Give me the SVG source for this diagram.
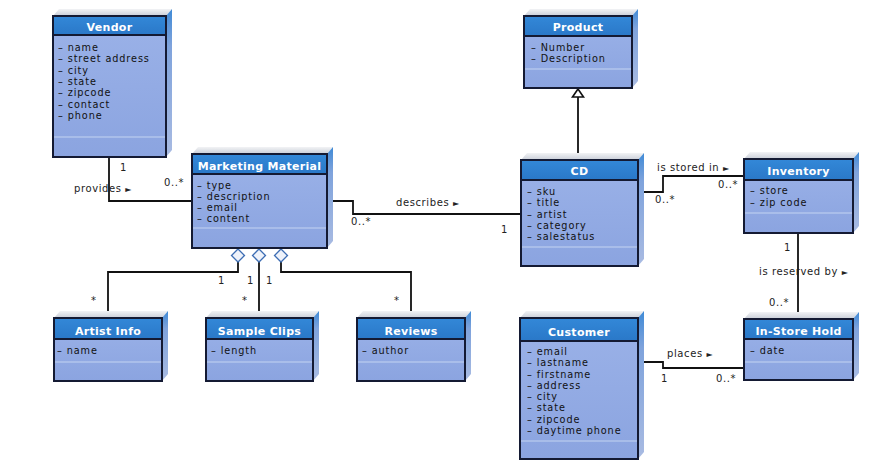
<svg xmlns="http://www.w3.org/2000/svg" width="888" height="469" viewBox="0 0 888 469">
<defs>
<linearGradient id="topface" x1="0" y1="0" x2="0" y2="1"><stop offset="0" stop-color="#f2f3f5"/><stop offset="1" stop-color="#c9ced8"/></linearGradient>
<linearGradient id="sideface" x1="0" y1="0" x2="0" y2="1"><stop offset="0" stop-color="#3f8ad6"/><stop offset="0.25" stop-color="#7fa3dc"/><stop offset="1" stop-color="#a9bbe2"/></linearGradient>
<linearGradient id="hdr" x1="0" y1="0" x2="0" y2="1"><stop offset="0" stop-color="#3388d8"/><stop offset="1" stop-color="#2a78c8"/></linearGradient>
<linearGradient id="body" x1="0" y1="0" x2="0" y2="1"><stop offset="0" stop-color="#9bb2e8"/><stop offset="1" stop-color="#8ba4e0"/></linearGradient>
</defs>
<style>
.top{fill:url(#topface)}
.side{fill:url(#sideface)}
.bd{fill:url(#body);stroke:#141a33;stroke-width:2}
.hd{fill:url(#hdr);stroke:#141a33;stroke-width:2}
.sep{stroke:#c4d3f2;stroke-width:1.2}
.ttl{font-family:"DejaVu Sans",sans-serif;font-size:11px;font-weight:bold;fill:#ffffff;text-anchor:middle;letter-spacing:0.3px}
.att{font-family:"DejaVu Sans",sans-serif;font-size:9.7px;fill:#111111;letter-spacing:0.9px}
.lbl{font-family:"DejaVu Sans",sans-serif;font-size:10px;fill:#222222;letter-spacing:0.6px}
.arr{font-size:8px}
.ln{fill:none;stroke:#111111;stroke-width:1.8}
.dia{fill:#eef2fa;stroke:#3d6db3;stroke-width:1.3}
</style>
<rect width="888" height="469" fill="#ffffff"/>

<g id="connectors">
<path class="ln" d="M109,157 V201 H192"/>
<path class="ln" d="M327,201 H353 V214 H521"/>
<path class="ln" d="M578,160 V97"/>
<polygon points="578,89 583.5,97 572.5,97" fill="#ffffff" stroke="#111111" stroke-width="1.6"/>
<path class="ln" d="M638,192 H663 V176 H744"/>
<path class="ln" d="M798,233 V319"/>
<path class="ln" d="M638,362 H663 V368 H744"/>
<path class="ln" d="M238,262 V272 H108 V318"/>
<path class="ln" d="M259,262 V318"/>
<path class="ln" d="M281,262 V272 H411 V318"/>
<polygon class="dia" points="238,249 244.5,255.5 238,262 231.5,255.5"/>
<polygon class="dia" points="259,249 265.5,255.5 259,262 252.5,255.5"/>
<polygon class="dia" points="281,249 287.5,255.5 281,262 274.5,255.5"/>
<text class="lbl" x="120" y="171">1</text>
<text class="lbl" x="74" y="192">provides <tspan class="arr">►</tspan></text>
<text class="lbl" x="164" y="186">0..*</text>
<text class="lbl" x="396" y="206">describes <tspan class="arr">►</tspan></text>
<text class="lbl" x="351" y="225">0..*</text>
<text class="lbl" x="501" y="233">1</text>
<text class="lbl" x="657" y="171">is stored in <tspan class="arr">►</tspan></text>
<text class="lbl" x="718" y="188">0..*</text>
<text class="lbl" x="655" y="203">0..*</text>
<text class="lbl" x="784" y="251">1</text>
<text class="lbl" x="759" y="275">is reserved by <tspan class="arr">►</tspan></text>
<text class="lbl" x="769" y="306">0..*</text>
<text class="lbl" x="667" y="357">places <tspan class="arr">►</tspan></text>
<text class="lbl" x="661" y="382">1</text>
<text class="lbl" x="716" y="382">0..*</text>
<text class="lbl" x="218" y="284">1</text>
<text class="lbl" x="247" y="284">1</text>
<text class="lbl" x="266" y="284">1</text>
<text class="lbl" x="91" y="304">*</text>
<text class="lbl" x="242" y="304">*</text>
<text class="lbl" x="394" y="304">*</text>
</g>

<g id="vendor">
<polygon class="top" points="59,9 172,9 166,16 53,16"/>
<polygon class="side" points="166,16 172,9 172,150 166,157"/>
<rect class="bd" x="53" y="16" width="113" height="141"/>
<rect class="hd" x="53" y="16" width="113" height="19"/>
<line class="sep" x1="54" y1="137" x2="165" y2="137"/>
<text class="ttl" x="109.5" y="31">Vendor</text>
<text class="att" x="58" y="51">– name</text>
<text class="att" x="58" y="62.3">– street address</text>
<text class="att" x="58" y="73.6">– city</text>
<text class="att" x="58" y="85">– state</text>
<text class="att" x="58" y="96.3">– zipcode</text>
<text class="att" x="58" y="107.6">– contact</text>
<text class="att" x="58" y="119">– phone</text>
</g>

<g id="marketing-material">
<polygon class="top" points="198,147 333,147 327,154 192,154"/>
<polygon class="side" points="327,154 333,147 333,241 327,248"/>
<rect class="bd" x="192" y="154" width="135" height="94"/>
<rect class="hd" x="192" y="154" width="135" height="20"/>
<line class="sep" x1="193" y1="228" x2="326" y2="228"/>
<text class="ttl" x="259.5" y="170">Marketing Material</text>
<text class="att" x="197" y="189">– type</text>
<text class="att" x="197" y="200">– description</text>
<text class="att" x="197" y="211">– email</text>
<text class="att" x="197" y="222">– content</text>
</g>

<g id="product">
<polygon class="top" points="530,9 638,9 632,16 524,16"/>
<polygon class="side" points="632,16 638,9 638,81 632,88"/>
<rect class="bd" x="524" y="16" width="108" height="72"/>
<rect class="hd" x="524" y="16" width="108" height="20"/>
<line class="sep" x1="525" y1="69" x2="631" y2="69"/>
<text class="ttl" x="578" y="31">Product</text>
<text class="att" x="531" y="51">– Number</text>
<text class="att" x="531" y="62">– Description</text>
</g>

<g id="cd">
<polygon class="top" points="527,153 644,153 638,160 521,160"/>
<polygon class="side" points="638,160 644,153 644,259 638,266"/>
<rect class="bd" x="521" y="160" width="117" height="106"/>
<rect class="hd" x="521" y="160" width="117" height="20"/>
<line class="sep" x1="522" y1="247" x2="637" y2="247"/>
<text class="ttl" x="579.5" y="175">CD</text>
<text class="att" x="527" y="195">– sku</text>
<text class="att" x="527" y="206.2">– title</text>
<text class="att" x="527" y="217.5">– artist</text>
<text class="att" x="527" y="228.7">– category</text>
<text class="att" x="527" y="240">– salestatus</text>
</g>

<g id="inventory">
<polygon class="top" points="750,152 859,152 853,159 744,159"/>
<polygon class="side" points="853,159 859,152 859,226 853,233"/>
<rect class="bd" x="744" y="159" width="109" height="74"/>
<rect class="hd" x="744" y="159" width="109" height="21"/>
<line class="sep" x1="745" y1="213" x2="852" y2="213"/>
<text class="ttl" x="798.5" y="175">Inventory</text>
<text class="att" x="750" y="194">– store</text>
<text class="att" x="750" y="206">– zip code</text>
</g>

<g id="artist-info">
<polygon class="top" points="60,311 168,311 162,318 54,318"/>
<polygon class="side" points="162,318 168,311 168,374 162,381"/>
<rect class="bd" x="54" y="318" width="108" height="63"/>
<rect class="hd" x="54" y="318" width="108" height="21"/>
<line class="sep" x1="55" y1="362" x2="161" y2="362"/>
<text class="ttl" x="108" y="335">Artist Info</text>
<text class="att" x="57" y="354">– name</text>
</g>

<g id="sample-clips">
<polygon class="top" points="212,311 319,311 313,318 206,318"/>
<polygon class="side" points="313,318 319,311 319,374 313,381"/>
<rect class="bd" x="206" y="318" width="107" height="63"/>
<rect class="hd" x="206" y="318" width="107" height="21"/>
<line class="sep" x1="207" y1="362" x2="312" y2="362"/>
<text class="ttl" x="259.5" y="335">Sample Clips</text>
<text class="att" x="211" y="354">– length</text>
</g>

<g id="reviews">
<polygon class="top" points="363,311 471,311 465,318 357,318"/>
<polygon class="side" points="465,318 471,311 471,374 465,381"/>
<rect class="bd" x="357" y="318" width="108" height="63"/>
<rect class="hd" x="357" y="318" width="108" height="21"/>
<line class="sep" x1="358" y1="362" x2="464" y2="362"/>
<text class="ttl" x="411" y="335">Reviews</text>
<text class="att" x="362" y="354">– author</text>
</g>

<g id="customer">
<polygon class="top" points="526,311 644,311 638,318 520,318"/>
<polygon class="side" points="638,318 644,311 644,452 638,459"/>
<rect class="bd" x="520" y="318" width="118" height="141"/>
<rect class="hd" x="520" y="318" width="118" height="23"/>
<line class="sep" x1="521" y1="441" x2="637" y2="441"/>
<text class="ttl" x="579" y="336">Customer</text>
<text class="att" x="527" y="355">– email</text>
<text class="att" x="527" y="366.3">– lastname</text>
<text class="att" x="527" y="377.6">– firstname</text>
<text class="att" x="527" y="388.9">– address</text>
<text class="att" x="527" y="400.1">– city</text>
<text class="att" x="527" y="411.4">– state</text>
<text class="att" x="527" y="422.7">– zipcode</text>
<text class="att" x="527" y="434">– daytime phone</text>
</g>

<g id="in-store-hold">
<polygon class="top" points="750,312 859,312 853,319 744,319"/>
<polygon class="side" points="853,319 859,312 859,373 853,380"/>
<rect class="bd" x="744" y="319" width="109" height="61"/>
<rect class="hd" x="744" y="319" width="109" height="20"/>
<line class="sep" x1="745" y1="362" x2="852" y2="362"/>
<text class="ttl" x="798.5" y="335">In-Store Hold</text>
<text class="att" x="750" y="354">– date</text>
</g>
</svg>
